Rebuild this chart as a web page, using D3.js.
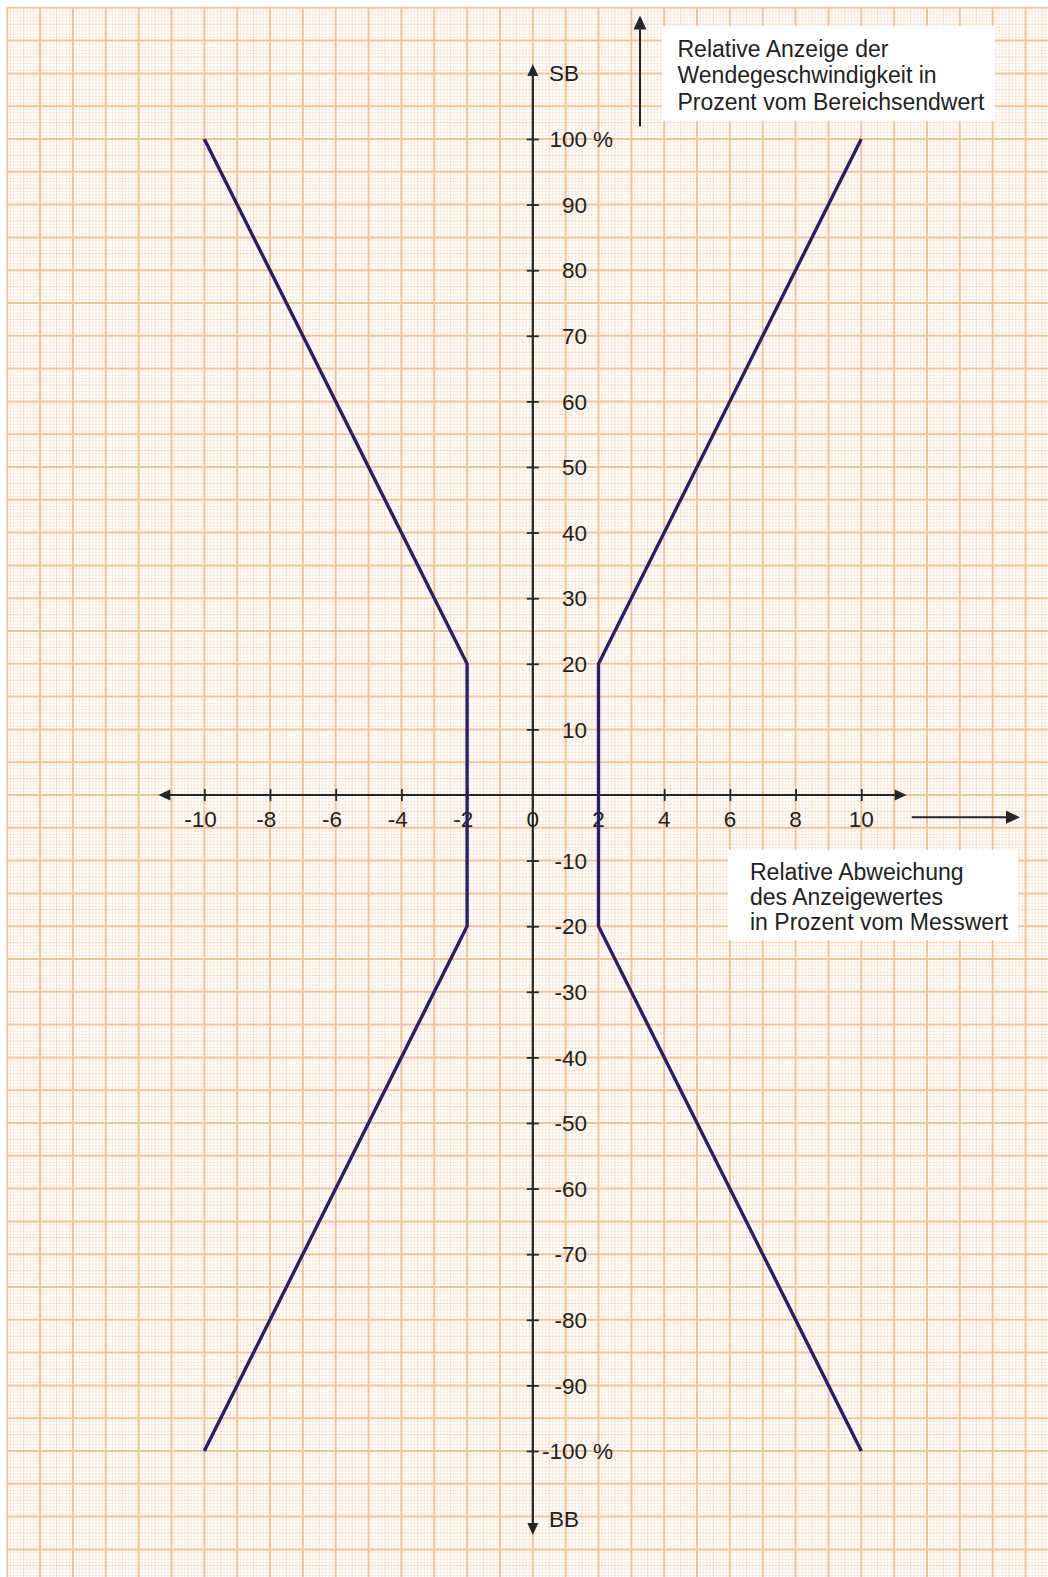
<!DOCTYPE html>
<html>
<head>
<meta charset="utf-8">
<script src="https://cdn.jsdelivr.net/npm/d3@7"></script>
<style>
  html, body { margin: 0; padding: 0; background: #ffffff; }
  svg { display: block; }
  text { font-family: "Liberation Sans", Arial, sans-serif; fill: #222; }
</style>
</head>
<body>
<svg id="chart" width="1048" height="1577"></svg>
<script>
// ---- data ----
const xTicks = [-10, -8, -6, -4, -2, 0, 2, 4, 6, 8, 10];
const yTicks = [100, 90, 80, 70, 60, 50, 40, 30, 20, 10, -10, -20, -30, -40, -50, -60, -70, -80, -90, -100];
const leftX  = [-10, -2, -2, -10];
const leftY  = [100, 20, -20, -100];
const rightX = [10, 2, 2, 10];
const rightY = [100, 20, -20, -100];
const yTopLabel = "SB";
const yBottomLabel = "BB";
const yTitle = ["Relative Anzeige der", "Wendegeschwindigkeit in", "Prozent vom Bereichsendwert"];
const xTitle = ["Relative Abweichung", "des Anzeigewertes", "in Prozent vom Messwert"];

// ---- layout ----
const W = 1048, H = 1577;
const svg = d3.select("#chart");
const x = d3.scaleLinear().domain([-10, 10]).range([204.3, 861.3]);
const y = d3.scaleLinear().domain([100, -100]).range([139, 1451]);
const x0 = x(0), y0 = y(0);

// ---- grid paper ----
const gridLeft = 7.2, gridTop = 7.5;
svg.append("clipPath").attr("id", "gclip")
  .append("rect").attr("x", gridLeft - 1).attr("y", gridTop - 1)
  .attr("width", W - gridLeft + 1).attr("height", H - gridTop + 1);
const grid = svg.append("g").attr("clip-path", "url(#gclip)");

const xLo = Math.floor(x.invert(gridLeft) * 10), xHi = Math.ceil(x.invert(W) * 10);
const yHi = Math.ceil(y.invert(gridTop) * 2), yLo = Math.floor(y.invert(H) * 2);
const vLines = d3.range(xLo, xHi + 1);
const hLines = d3.range(yLo, yHi + 1);
const levels = [
  { test: i => i % 10 !== 0 && i % 5 !== 0, color: "#fbeadb", w: 1 },
  { test: i => i % 10 !== 0 && i % 5 === 0, color: "#f7dcc0", w: 1 },
  { test: i => i % 10 === 0, color: "#efc49a", w: 2 }
];
levels.forEach(L => {
  grid.append("g").selectAll("line").data(vLines.filter(L.test)).join("line")
    .attr("x1", i => x(i / 10)).attr("x2", i => x(i / 10))
    .attr("y1", gridTop).attr("y2", H)
    .attr("stroke", L.color).attr("stroke-width", L.w);
  grid.append("g").selectAll("line").data(hLines.filter(L.test)).join("line")
    .attr("y1", i => y(i / 2)).attr("y2", i => y(i / 2))
    .attr("x1", gridLeft).attr("x2", W)
    .attr("stroke", L.color).attr("stroke-width", L.w);
});

// ---- annotation boxes ----
svg.append("rect").attr("x", 662).attr("y", 26).attr("width", 333).attr("height", 95).attr("fill", "#fff");
svg.append("rect").attr("x", 728).attr("y", 850).attr("width", 290).attr("height", 90).attr("fill", "#fff");

const axisColor = "#262626";
function arrowHead(tx, ty, dir, len, half) {
  let pts;
  if (dir === "up") pts = [[tx, ty], [tx - half, ty + len], [tx + half, ty + len]];
  if (dir === "down") pts = [[tx, ty], [tx - half, ty - len], [tx + half, ty - len]];
  if (dir === "left") pts = [[tx, ty], [tx + len, ty - half], [tx + len, ty + half]];
  if (dir === "right") pts = [[tx, ty], [tx - len, ty - half], [tx - len, ty + half]];
  svg.append("path").attr("d", d3.line()(pts) + "Z").attr("fill", axisColor);
}

// ---- axes ----
svg.append("line").attr("x1", 162).attr("x2", 902).attr("y1", y0).attr("y2", y0)
  .attr("stroke", axisColor).attr("stroke-width", 2.2);
arrowHead(158.3, y0, "left", 12, 5.5);
arrowHead(906.7, y0, "right", 12, 5.5);

svg.append("line").attr("x1", x0).attr("x2", x0).attr("y1", 68).attr("y2", 1531)
  .attr("stroke", axisColor).attr("stroke-width", 2.2);
arrowHead(x0, 64, "up", 12, 5.5);
arrowHead(x0, 1535, "down", 12, 5.5);

const gx = svg.append("g").attr("transform", `translate(0,${y0 - 6})`)
  .call(d3.axisBottom(x).tickValues(xTicks.filter(d => d !== 0)).tickSize(12).tickFormat(""));
gx.select(".domain").remove();
gx.selectAll("line").attr("stroke", axisColor).attr("stroke-width", 1.8);

const gy = svg.append("g").attr("transform", `translate(${x0 - 6},0)`)
  .call(d3.axisRight(y).tickValues(yTicks).tickSize(12).tickFormat(""));
gy.select(".domain").remove();
gy.selectAll("line").attr("stroke", axisColor).attr("stroke-width", 1.8);

// x tick labels: digits centered on tick, minus sign hanging left
const fs = 22.5;
xTicks.forEach(d => {
  const t = svg.append("text").attr("x", x(d)).attr("y", y0 + 32.4)
    .attr("text-anchor", "middle").attr("font-size", fs).text(Math.abs(d));
  if (d < 0) {
    const wdt = t.node().getComputedTextLength();
    svg.append("text").attr("x", x(d) - wdt / 2).attr("y", y0 + 32.4)
      .attr("text-anchor", "end").attr("font-size", fs).text("-");
  }
});

// y tick labels: right aligned numbers, "%" for the ends
yTicks.forEach(d => {
  svg.append("text").attr("x", 587).attr("y", y(d)).attr("dy", "0.36em")
    .attr("text-anchor", "end").attr("font-size", fs).text(d);
  if (Math.abs(d) === 100) {
    svg.append("text").attr("x", 593).attr("y", y(d)).attr("dy", "0.36em")
      .attr("text-anchor", "start").attr("font-size", fs).text("%");
  }
});

svg.append("text").attr("x", 549).attr("y", 80.7).attr("font-size", fs).text(yTopLabel);
svg.append("text").attr("x", 549).attr("y", 1526.7).attr("font-size", fs).text(yBottomLabel);

// ---- title arrows ----
svg.append("line").attr("x1", 640).attr("x2", 640).attr("y1", 26).attr("y2", 126.5)
  .attr("stroke", axisColor).attr("stroke-width", 2);
arrowHead(640, 15.5, "up", 14, 6.5);
svg.append("line").attr("x1", 911.7).attr("x2", 1010).attr("y1", 817.3).attr("y2", 817.3)
  .attr("stroke", axisColor).attr("stroke-width", 2);
arrowHead(1020, 817.3, "right", 14, 6.5);

// ---- titles ----
const tfs = 23;
yTitle.forEach((s, i) => {
  svg.append("text").attr("x", 677.5).attr("y", 56.8 + i * 26.6).attr("font-size", tfs).text(s);
});
xTitle.forEach((s, i) => {
  svg.append("text").attr("x", 750).attr("y", 880 + i * 25).attr("font-size", tfs).text(s);
});

// ---- tolerance lines ----
const line = d3.line().x(d => x(d[0])).y(d => y(d[1]));
[[leftX, leftY], [rightX, rightY]].forEach(([xs, ys]) => {
  svg.append("path").attr("d", line(xs.map((v, i) => [v, ys[i]])))
    .attr("fill", "none").attr("stroke", "#2b1d6e").attr("stroke-width", 3.4)
    .attr("stroke-linejoin", "miter");
});
</script>
</body>
</html>
